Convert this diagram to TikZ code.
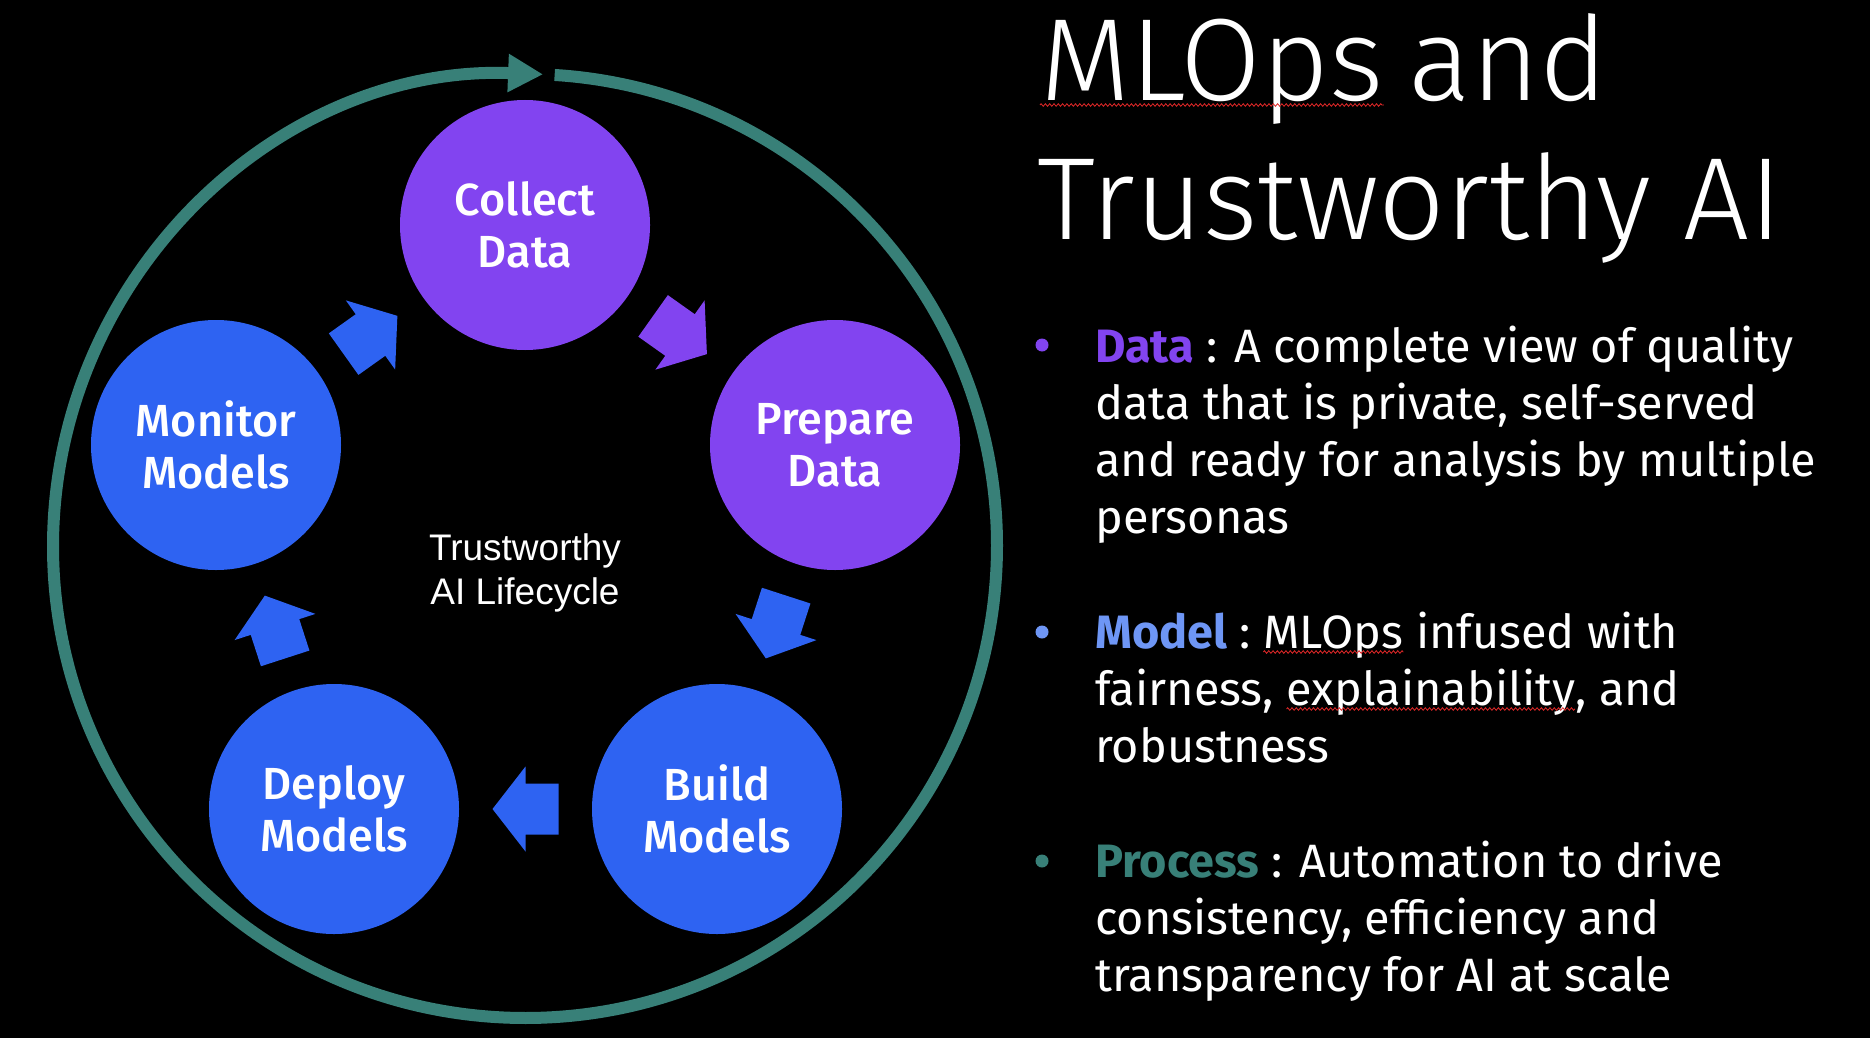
\documentclass[tikz,border=0pt]{standalone}
\usepackage{fontspec}
\usetikzlibrary{calc,arrows.meta,decorations.pathmorphing}
\setmainfont{Fira Sans}
\IfFontExistsTF{Fira Sans Light}{\newfontfamily\titlefont{Fira Sans Light}}{\newfontfamily\titlefont{Fira Sans}}
\IfFontExistsTF{Fira Sans Medium}{\newfontfamily\stagefont{Fira Sans Medium}}{\newfontfamily\stagefont{Fira Sans}[FakeBold=1.2]}
\newfontfamily\arialfont{Liberation Sans}

\definecolor{ringteal}{RGB}{56,128,120}
\definecolor{stagepurple}{RGB}{130,68,240}
\definecolor{stageblue}{RGB}{46,99,242}
\definecolor{modelblue}{RGB}{110,150,245}
\definecolor{spellred}{RGB}{225,40,40}

% block arrow halfway between two stages, pointing from #1 to #2
\newcommand\flowarrow[3]{%
  \path let \p1=($(#2)-(#1)$), \n1={atan2(\y1,\x1)} in
    ($(#1)!0.5!(#2)$) pic[rotate=\n1, fill=#3] {blockarrow};}
% red wavy spell-check line under a word node
\newcommand\spellwave[1]{%
  \draw[spellwave] ([yshift=-4pt]#1.base west) -- ([yshift=-4pt]#1.base east);}

\begin{document}
\begin{tikzpicture}[x=1pt,y=-1pt,
  stage/.style={circle, minimum size=250pt, inner sep=0pt, text=white,
    align=center, font=\stagefont\fontsize{45}{52}\selectfont},
  blockarrow/.pic={\path[pic actions] (-33,-25.5) -- (0,-25.5) -- (0,-42.5)
    -- (33,0) -- (0,42.5) -- (0,25.5) -- (-33,25.5) -- cycle;},
  body/.style={anchor=base west, inner sep=0pt, text=white,
    font=\fontsize{46.8}{57}\selectfont},
  bulletdot/.style={circle, minimum size=13pt, inner sep=0pt},
  titletext/.style={anchor=base west, inner sep=0pt, text=white,
    font=\titlefont\fontsize{117}{138}\selectfont},
  spellwave/.style={draw=spellred, line width=0.8pt, decorate,
    decoration={zigzag, segment length=4.3pt, amplitude=1.3pt}}]

\fill[black] (0,0) rectangle (1870,1038);
\useasboundingbox (0,0) rectangle (1870,1038);

% outer lifecycle ring with its arrow head at the top
\coordinate (hub) at (525,546);
\draw[ringteal, line width=12pt, -{Triangle[length=35pt,width=36pt]}]
  ($(hub)+(86.4:472pt)$) arc[start angle=86.4, end angle=-272.2, radius=472pt];

% stages
\node[stage, fill=stagepurple] (collect) at (525,225) {Collect\\Data};
\node[stage, fill=stagepurple] (prepare) at (835,445) {Prepare\\Data};
\node[stage, fill=stageblue] (build) at (717,809) {Build\\Models};
\node[stage, fill=stageblue] (deploy) at (334,809) {Deploy\\Models};
\node[stage, fill=stageblue] (monitor) at (216,445) {Monitor\\Models};

\node[text=white, align=center, font=\arialfont\fontsize{37}{44}\selectfont]
  (lifecycle) at (525,573) {Trustworthy\\AI Lifecycle};

% flow between stages
\flowarrow{collect}{prepare}{stagepurple}
\flowarrow{prepare}{build}{stageblue}
\flowarrow{build}{deploy}{stageblue}
\flowarrow{deploy}{monitor}{stageblue}
\flowarrow{monitor}{collect}{stageblue}

% title
\node[titletext] (titlemlops) at (1040,101) {MLOps};
\node[titletext] (titleand) at (titlemlops.base east) {\ \kern-8pt and};
\node[titletext] (title2) at (1037,239) {Trustworthy AI};
\spellwave{titlemlops}

% bullet list
\node[bulletdot, fill=stagepurple] (databullet) at (1042,345) {};
\node[body] (datatext) at (1095,362) {\begin{tabular}[t]{@{}l@{}}
  \textcolor{stagepurple}{\bfseries Data} : A complete view of quality\\
  data that is private, self-served\\
  and ready for analysis by multiple\\
  personas\end{tabular}};

\node[bulletdot, fill=modelblue] (modelbullet) at (1042,632) {};
\node[body] (modelhead) at (1095,648) {\textcolor{modelblue}{\bfseries Model} :\ \hbox{}};
\node[body] (modelmlops) at (modelhead.base east) {MLOps};
\node[body] (modelrest) at (modelmlops.base east) {\ infused with};
\node[body] (fairword) at (1095,705) {fairness,\ \hbox{}};
\node[body] (explainword) at (fairword.base east) {explainability};
\node[body] (andword) at (explainword.base east) {, and};
\node[body] (robustword) at (1095,762) {robustness};
\spellwave{modelmlops}
\spellwave{explainword}

\node[bulletdot, fill=ringteal] (processbullet) at (1042,861) {};
\node[body] (processtext) at (1095,877) {\begin{tabular}[t]{@{}l@{}}
  \textcolor{ringteal}{\bfseries Process} : Automation to drive\\
  consistency, efficiency and\\
  transparency for AI at scale\end{tabular}};
\end{tikzpicture}
\end{document}
